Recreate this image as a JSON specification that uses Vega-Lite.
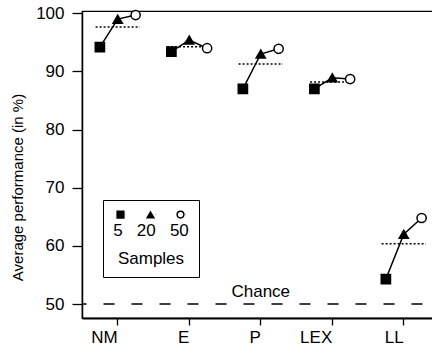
{
  "$schema": "https://vega.github.io/schema/vega-lite/v6.json",
  "width": 357.5,
  "height": 307,
  "autosize": "none",
  "padding": {"left": 82, "top": 11, "right": 0, "bottom": 40},
  "background": "white",
  "config": {
    "font": "Liberation Sans",
    "view": {"stroke": "black", "strokeWidth": 1.2},
    "axis": {"domainColor": "black", "tickColor": "black", "labelColor": "black", "titleColor": "black", "grid": false, "domainWidth": 1.5, "tickWidth": 1.3},
    "legend": {
      "orient": "none", "legendX": 21, "legendY": 189, "direction": "horizontal", "gridAlign": "all",
      "titleOrient": "bottom", "titleAnchor": "middle", "titleAlign": "center", "titleBaseline": "top", "titleFontSize": 17, "titleFontWeight": "normal", "titleColor": "black", "titlePadding": 2, "titleLineHeight": 28,
      "labelFontSize": 1, "labelExpr": "''", "labelOffset": 0,
      "strokeColor": "black", "fillColor": "white", "padding": 10, "columnPadding": 17,
      "symbolSize": 45, "symbolStrokeWidth": 1.5, "symbolStrokeColor": "black"
    }
  },
  "datasets": {
    "perf": [
      {"task": "NM", "samples": 5, "value": 94.2},
      {"task": "NM", "samples": 20, "value": 99.0},
      {"task": "NM", "samples": 50, "value": 99.7},
      {"task": "E", "samples": 5, "value": 93.4},
      {"task": "E", "samples": 20, "value": 95.4},
      {"task": "E", "samples": 50, "value": 94.0},
      {"task": "P", "samples": 5, "value": 87.0},
      {"task": "P", "samples": 20, "value": 93.0},
      {"task": "P", "samples": 50, "value": 93.9},
      {"task": "LEX", "samples": 5, "value": 87.0},
      {"task": "LEX", "samples": 20, "value": 88.9},
      {"task": "LEX", "samples": 50, "value": 88.7},
      {"task": "LL", "samples": 5, "value": 54.3},
      {"task": "LL", "samples": 20, "value": 62.0},
      {"task": "LL", "samples": 50, "value": 64.8}
    ]
  },
  "layer": [
    {
      "data": {"values": [{"chance": 50, "label": "Chance"}]},
      "mark": {"type": "rule", "color": "black", "strokeWidth": 1.5, "strokeDash": [11, 17], "strokeDashOffset": 11},
      "encoding": {
        "y": {"field": "chance", "type": "quantitative", "scale": {"domain": [47.6, 100.4], "nice": false, "zero": false}}
      }
    },
    {
      "data": {"values": [{"chance": 50, "label": "Chance", "task": "P"}]},
      "mark": {"type": "text", "fontSize": 17, "baseline": "alphabetic", "color": "black", "dy": -7},
      "encoding": {
        "x": {"field": "task", "type": "nominal", "sort": ["NM", "E", "P", "LEX", "LL"], "scale": {"domain": ["NM", "E", "P", "LEX", "LL"], "paddingInner": 0, "paddingOuter": 0}},
        "y": {"field": "chance", "type": "quantitative"},
        "text": {"field": "label"}
      }
    },
    {
      "data": {"name": "perf"},
      "mark": {"type": "rule", "color": "black", "strokeWidth": 1.5, "strokeDash": [2, 2]},
      "encoding": {
        "x": {"field": "task", "type": "nominal", "bandPosition": 0.19},
        "x2": {"field": "task", "bandPosition": 0.81},
        "y": {"aggregate": "mean", "field": "value", "type": "quantitative"}
      }
    },
    {
      "data": {"name": "perf"},
      "mark": {"type": "line", "color": "black", "strokeWidth": 1.5},
      "encoding": {
        "x": {"field": "task", "type": "nominal"},
        "xOffset": {"field": "samples", "type": "ordinal", "scale": {"type": "point", "padding": 1.55, "domain": [5, 20, 50]}},
        "y": {"field": "value", "type": "quantitative"},
        "detail": {"field": "task"},
        "order": {"field": "samples", "type": "quantitative"}
      }
    },
    {
      "data": {"name": "perf"},
      "mark": {"type": "point", "filled": true, "strokeWidth": 1.5, "size": 85, "opacity": 1},
      "encoding": {
        "x": {
          "field": "task", "type": "nominal",
          "axis": {"title": null, "labelFontSize": 17, "tickSize": 7, "labelPadding": 12, "domainWidth": 2, "labelAngle": 0}
        },
        "xOffset": {"field": "samples", "type": "ordinal"},
        "y": {
          "field": "value", "type": "quantitative",
          "axis": {"values": [50, 60, 70, 80, 90, 100], "tickSize": 10, "labelPadding": 8, "labelFontSize": 17, "title": "Average performance (in %)", "titleFontSize": 15, "titleFontWeight": "normal", "titlePadding": 10, "titleY": 176}
        },
        "shape": {
          "field": "samples", "type": "ordinal", "title": ["5\u00a0\u00a0\u00a020\u00a0\u00a0\u00a050", "Samples"],
          "scale": {"domain": [5, 20, 50], "range": ["square", "triangle-up", "circle"]}
        },
        "fill": {
          "field": "samples", "type": "ordinal", "title": ["5\u00a0\u00a0\u00a020\u00a0\u00a0\u00a050", "Samples"],
          "scale": {"domain": [5, 20, 50], "range": ["black", "black", "white"]}
        },
        "stroke": {
          "field": "samples", "type": "ordinal", "title": ["5\u00a0\u00a0\u00a020\u00a0\u00a0\u00a050", "Samples"],
          "scale": {"domain": [5, 20, 50], "range": ["black", "black", "black"]}
        }
      }
    }
  ]
}
